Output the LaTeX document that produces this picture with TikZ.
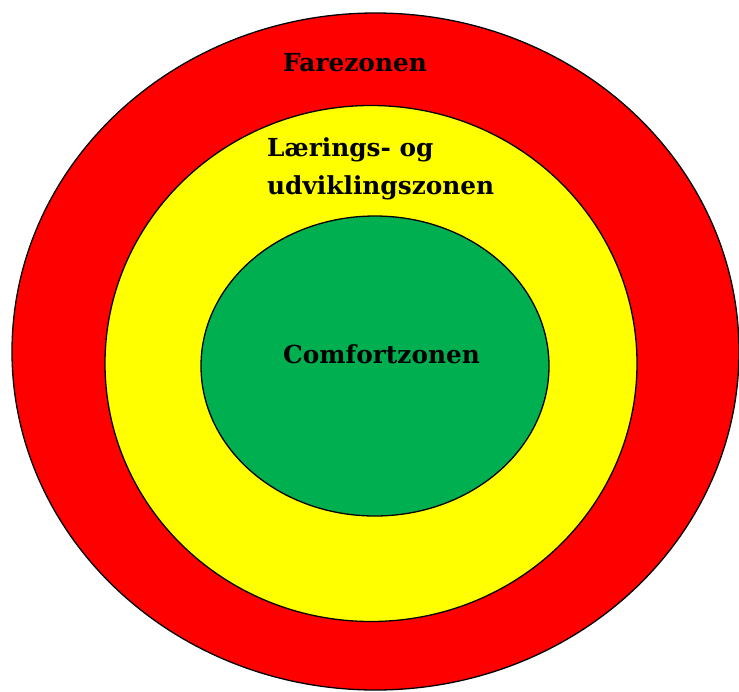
\documentclass[tikz,border=0pt]{standalone}
\usepackage{fontspec}
\setmainfont{DejaVu Serif}
\usetikzlibrary{shapes.geometric,positioning}
\definecolor{zonered}{HTML}{FF0000}
\definecolor{zoneyellow}{HTML}{FFFF00}
\definecolor{zonegreen}{HTML}{00B050}

\tikzset{
  zone/.style={ellipse,draw=black,line width=1.3pt,inner sep=0pt},
  zonelabel/.style={anchor=base west,inner sep=0pt,font=\bfseries\fontsize{24.8}{30}\selectfont}
}

\begin{document}
\begin{tikzpicture}[x=1pt,y=-1pt]
        \useasboundingbox (0,0) rectangle (739,691);
        % the three zones, outside in
        \node[zone,fill=zonered,minimum width=727pt,minimum height=677pt] (fare) at (375.5,351.5) {};
        \node[zone,fill=zoneyellow,minimum width=532pt,minimum height=516pt] (laering) at (371,363.5) {};
        \node[zone,fill=zonegreen,minimum width=348pt,minimum height=300pt] (comfort) at (375,366) {};
        % names
        \node[zonelabel] (farenavn) at (283,71) {Farezonen};
        \node[zonelabel] (laernavn) at (267,156.5) {Lærings- og};
        \node[zonelabel] (udvnavn) at (267,194) {udviklingszonen};
        \node[zonelabel] (comfortnavn) at (283,363) {Comfortzonen};
      \end{tikzpicture}
\end{document}
